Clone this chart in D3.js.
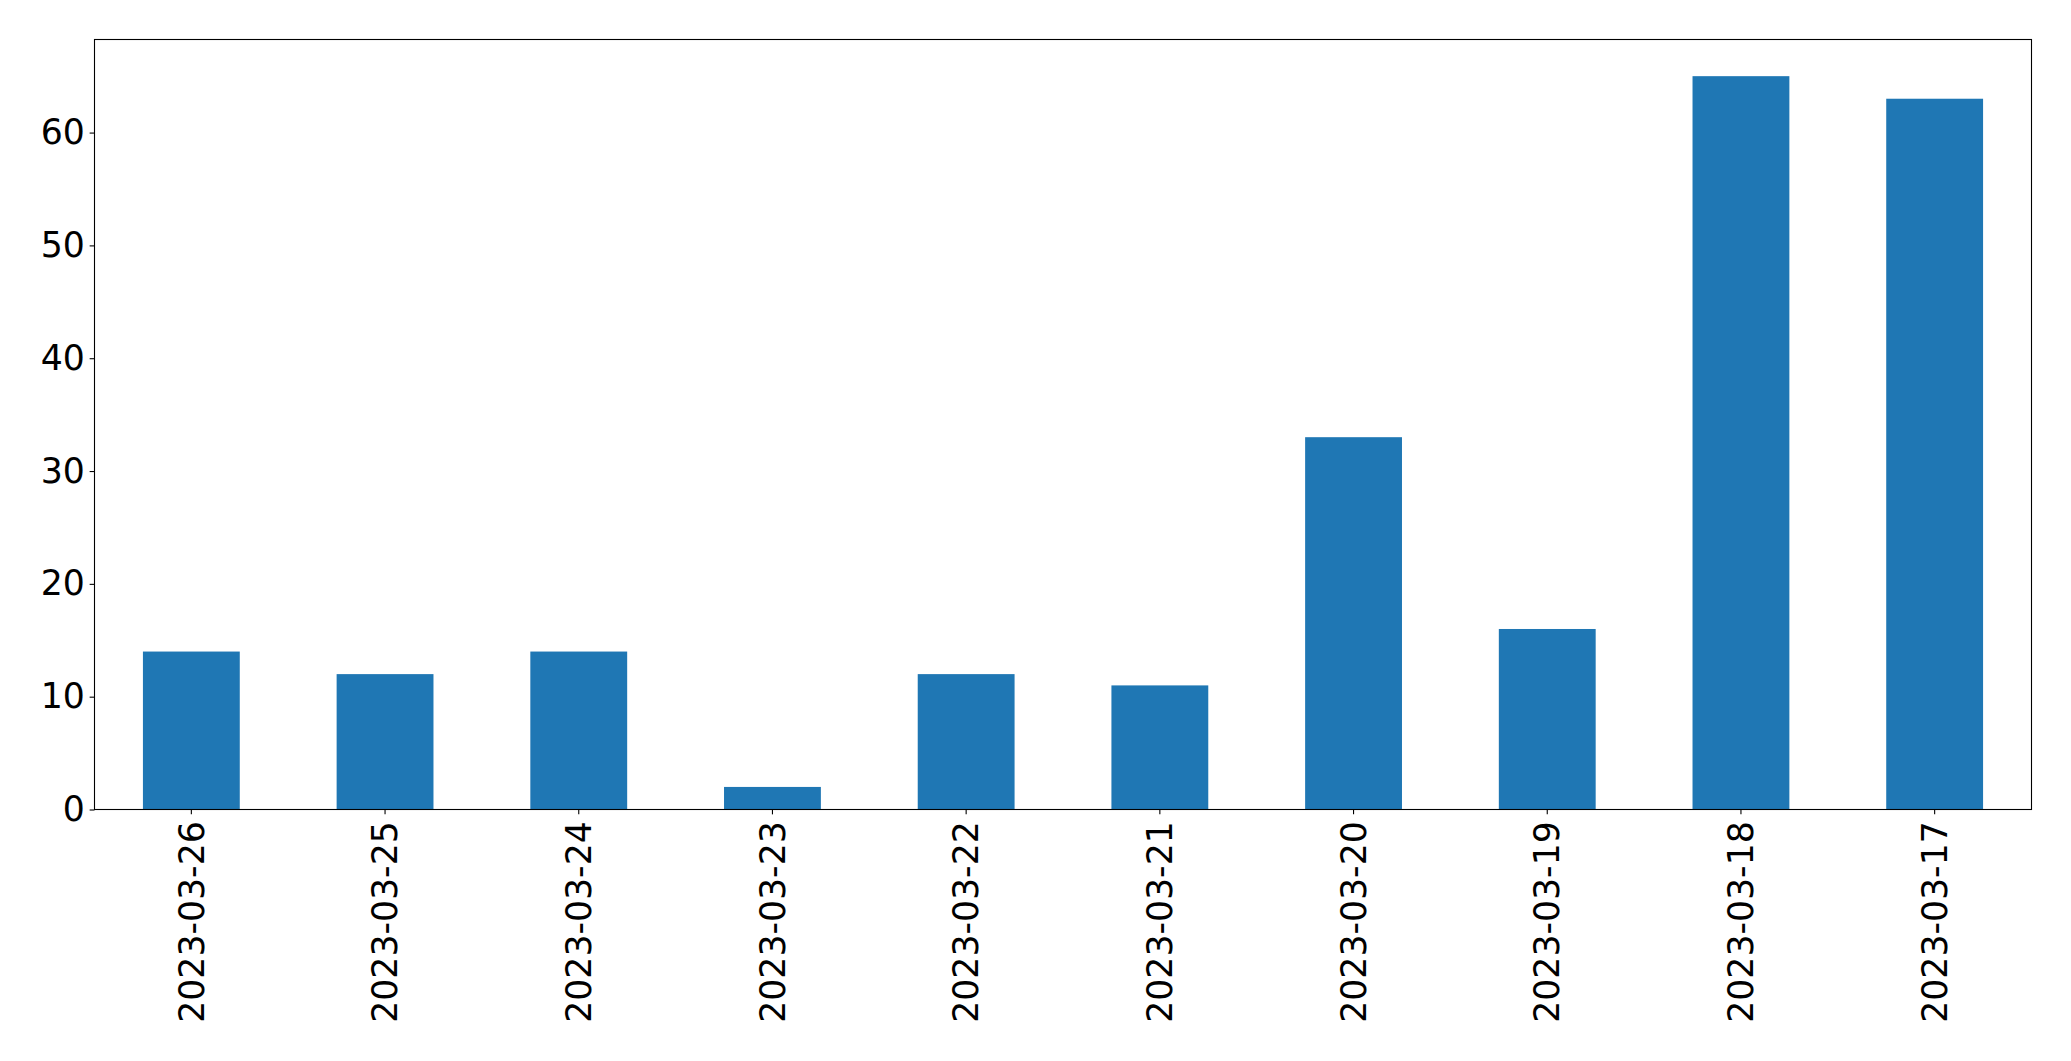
<!DOCTYPE html>
<html><head><meta charset="utf-8">
<script src="https://cdn.jsdelivr.net/npm/d3@7"></script>
<style>body{margin:0;background:#fff;} svg{display:block;}</style>
</head><body>
<svg id="chart" width="2071" height="1061"></svg>
<script>
const categories = ["2023-03-26","2023-03-25","2023-03-24","2023-03-23","2023-03-22","2023-03-21","2023-03-20","2023-03-19","2023-03-18","2023-03-17"];
const values = [14,12,14,2,12,11,33,16,65,63];
const yTicks = [0,10,20,30,40,50,60];

const svg = d3.select("#chart");
const L = 94.5, R = 2031.5, T = 39.5, B = 809.5;
const fontSize = 34.7;
const tickLen = 4.86, pad = 4.86;

const x = d3.scaleBand().domain(categories).range([L, R]).paddingInner(0.5).paddingOuter(0.25);
const y = d3.scaleLinear().domain([0, 68.25]).range([B, T]);

svg.selectAll("rect.bar").data(values).enter().append("rect")
  .attr("class","bar")
  .attr("x",(d,i)=>x(categories[i]))
  .attr("width",x.bandwidth())
  .attr("y",d=>y(d))
  .attr("height",d=>B-y(d))
  .attr("fill","#1f77b4");

const yAxis = d3.axisLeft(y).tickValues(yTicks).tickSize(tickLen).tickPadding(pad).tickFormat(d3.format("d"));
const gy = svg.append("g").attr("transform",`translate(${L},0)`).call(yAxis);
gy.select(".domain").remove();
gy.selectAll("text").attr("font-family","DejaVu Sans").attr("font-size",fontSize).attr("fill","#000");
gy.selectAll("line").attr("stroke","#000").attr("stroke-width",1.1);

const xAxis = d3.axisBottom(x).tickSize(tickLen).tickPadding(pad);
const gx = svg.append("g").attr("transform",`translate(0,${B})`).call(xAxis);
gx.select(".domain").remove();
gx.selectAll("line").attr("stroke","#000").attr("stroke-width",1.1);
gx.selectAll("text")
  .attr("font-family","DejaVu Sans").attr("font-size",fontSize).attr("fill","#000")
  .attr("transform","rotate(-90)")
  .attr("text-anchor","end")
  .attr("dy","0.35em")
  .attr("x",-(tickLen+pad+2))
  .attr("y",0);

svg.append("rect").attr("x",L).attr("y",T).attr("width",R-L).attr("height",B-T)
  .attr("fill","none").attr("stroke","#000").attr("stroke-width",1.1);
</script>
</body></html>
